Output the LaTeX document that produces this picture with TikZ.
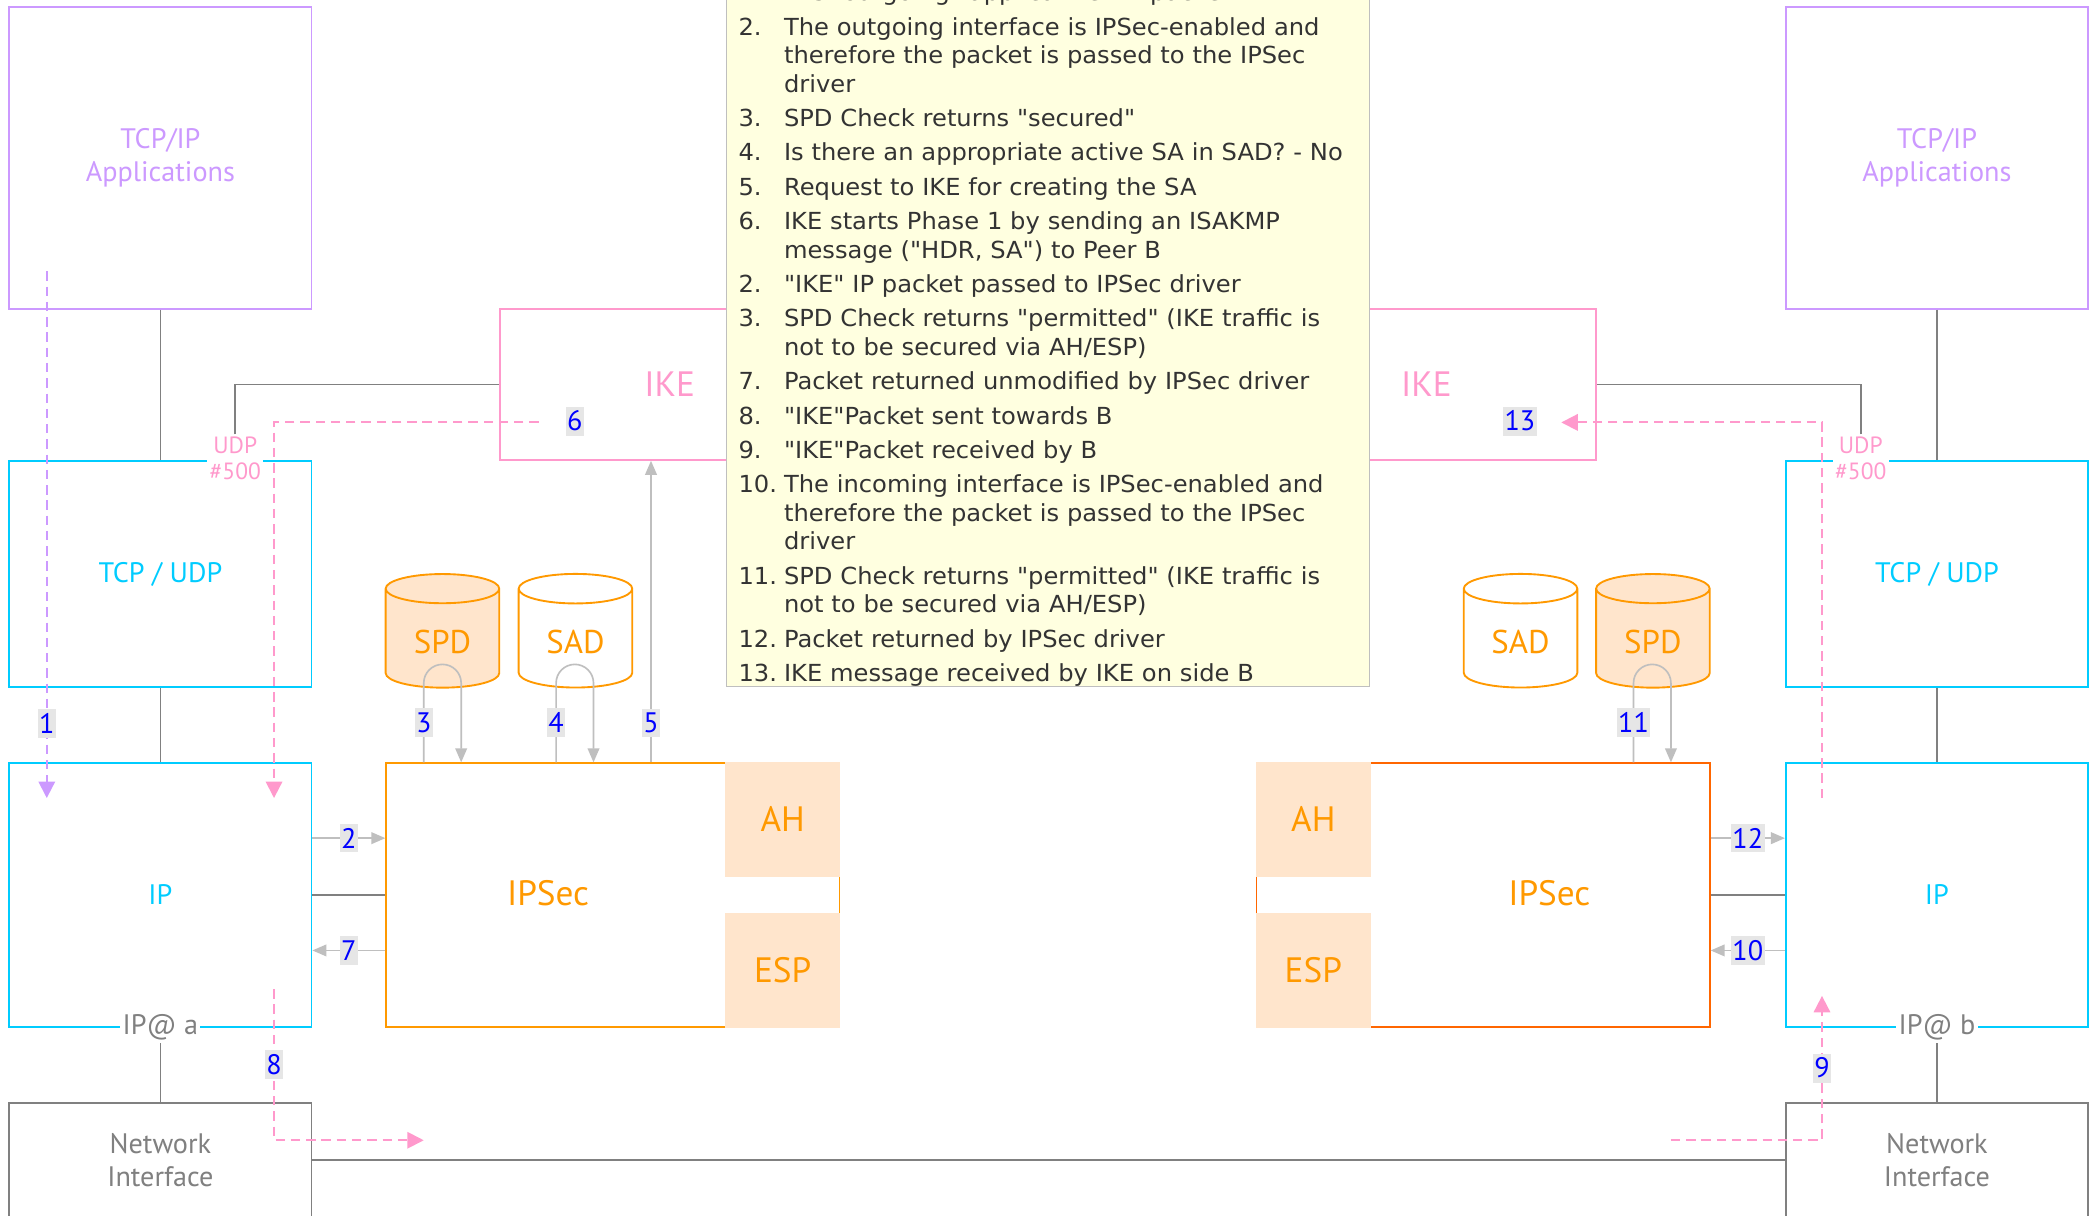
\documentclass[tikz,border=0pt]{standalone}
\usepackage{fontspec}
\setmainfont{PT Sans}
\newfontfamily\notefont{DejaVu Sans}[FakeStretch=1.03]
\usetikzlibrary{arrows.meta,positioning,shapes.geometric}

\definecolor{appcol}{HTML}{CC99FF}
\definecolor{netcol}{HTML}{00CCFF}
\definecolor{ikecol}{HTML}{FF99CC}
\definecolor{seccol}{HTML}{FF9900}
\definecolor{secdark}{HTML}{FF6600}
\definecolor{peach}{HTML}{FFE5CC}
\definecolor{notebg}{HTML}{FFFFE0}
\definecolor{wire}{HTML}{808080}
\definecolor{flowgray}{HTML}{BFBFBF}
\definecolor{tagbg}{HTML}{E6E6E6}
\definecolor{notetext}{HTML}{333333}

\newcommand{\stepno}[1]{\makebox[0.68cm][l]{#1}}
\newcommand{\contline}{\hspace*{0.68cm}}

\begin{document}
\begin{tikzpicture}[
    layer/.style={draw, line width=0.8pt, minimum width=4.52cm, font=\fontsize{12}{14}\selectfont},
    app/.style={layer, draw=appcol, text=appcol, minimum height=4.52cm, align=center},
    net/.style={layer, draw=netcol, text=netcol},
    nic/.style={layer, draw=wire, text=wire, align=center, minimum height=1.72cm},
    ike/.style={draw=ikecol, line width=0.8pt, text=ikecol, minimum width=5.08cm, minimum height=2.26cm, font=\fontsize{15}{18}\selectfont},
    ipsec/.style={draw=seccol, line width=0.8pt, minimum width=6.78cm, minimum height=3.94cm},
    seclbl/.style={text=seccol, font=\fontsize{15}{18}\selectfont},
    crypto/.style={fill=peach, draw=peach, line width=0.8pt, text=seccol, minimum width=1.70cm, minimum height=1.68cm, font=\fontsize{15}{18}\selectfont},
    db/.style={cylinder, shape border rotate=90, aspect=0.4, draw=seccol, line width=0.8pt, text=seccol, minimum width=1.70cm, minimum height=1.70cm, font=\fontsize{14}{17}\selectfont},
    note/.style={draw=flowgray, fill=notebg, text=notetext, line width=0.6pt, align=left, text width=9.26cm, inner xsep=0.18cm, inner ysep=0pt, font=\notefont\fontsize{10}{12.2}\selectfont},
    addr/.style={fill=white, text=wire, inner sep=1pt, font=\fontsize{12}{14}\selectfont},
    port/.style={fill=white, text=ikecol, inner sep=1pt, align=center, font=\fontsize{10}{11}\selectfont},
    num/.style={fill=tagbg, text=blue, inner xsep=0.6pt, inner ysep=1.8pt, font=\fontsize{12}{14}\selectfont},
    link/.style={draw=wire, line width=0.7pt},
    flow/.style={flowgray, line width=0.7pt, -{Triangle[width=5pt,length=6pt]}},
    ikeflow/.style={ikecol, line width=0.8pt, dash pattern=on 4pt off 2.5pt, -{Triangle[width=7pt,length=7pt]}},
    appflow/.style={appcol, line width=0.8pt, dash pattern=on 4pt off 2.5pt, -{Triangle[width=7pt,length=7pt]}}
  ]
    \path[use as bounding box, fill=white] (0,0) rectangle (31.36,-18.18);

    % side A
    \node[app] (appA) at (2.40,-2.36) {TCP/IP\\Applications};
    \node[net, minimum height=3.38cm] (tcpA) at (2.40,-8.59) {TCP / UDP};
    \node[net, minimum height=3.94cm] (ipA) at (2.40,-13.39) {IP};
    \node[nic] (nicA) at (2.40,-17.36) {Network\\Interface};
    \node[addr] (adrA) at (ipA.south) {IP@ a};
    \node[port] (udpA) at (3.52,-6.86) {UDP\\\#500};
    \node[ike] (ikeA) at (10.02,-5.75) {IKE};

    % side B
    \node[app] (appB) at (28.98,-2.36) {TCP/IP\\Applications};
    \node[net, minimum height=3.38cm] (tcpB) at (28.98,-8.59) {TCP / UDP};
    \node[net, minimum height=3.94cm] (ipB) at (28.98,-13.39) {IP};
    \node[nic] (nicB) at (28.98,-17.36) {Network\\Interface};
    \node[addr] (adrB) at (ipB.south) {IP@ b};
    \node[port] (udpB) at (27.84,-6.86) {UDP\\\#500};
    \node[ike] (ikeB) at (21.34,-5.75) {IKE};

    % steps
    \node[note, anchor=south west] (notes) at (10.86,-10.28) {%
      \stepno{1.}First outgoing "applicative" IP packet\\[2.4pt]
      \stepno{2.}The outgoing interface is IPSec-enabled and\\
      \contline therefore the packet is passed to the IPSec\\
      \contline driver\\[2.4pt]
      \stepno{3.}SPD Check returns "secured"\\[2.4pt]
      \stepno{4.}Is there an appropriate active SA in SAD? - No\\[2.4pt]
      \stepno{5.}Request to IKE for creating the SA\\[2.4pt]
      \stepno{6.}IKE starts Phase 1 by sending an ISAKMP\\
      \contline message ("HDR, SA") to Peer B\\[2.4pt]
      \stepno{2.}"IKE" IP packet passed to IPSec driver\\[2.4pt]
      \stepno{3.}SPD Check returns "permitted" (IKE traffic is\\
      \contline not to be secured via AH/ESP)\\[2.4pt]
      \stepno{7.}Packet returned unmodified by IPSec driver\\[2.4pt]
      \stepno{8.}"IKE"Packet sent towards B\\[2.4pt]
      \stepno{9.}"IKE"Packet received by B\\[2.4pt]
      \stepno{10.}The incoming interface is IPSec-enabled and\\
      \contline therefore the packet is passed to the IPSec\\
      \contline driver\\[2.4pt]
      \stepno{11.}SPD Check returns "permitted" (IKE traffic is\\
      \contline not to be secured via AH/ESP)\\[2.4pt]
      \stepno{12.}Packet returned by IPSec driver\\[2.4pt]
      \stepno{13.}IKE message received by IKE on side B};

    % databases
    \node[db, fill=peach] (spdA) at (6.62,-9.61) {SPD};
    \node[db, fill=white] (sadA) at (8.61,-9.61) {SAD};
    \node[db, fill=white] (sadB) at (22.75,-9.61) {SAD};
    \node[db, fill=peach] (spdB) at (24.73,-9.61) {SPD};

    % IPSec drivers
    \node[ipsec] (ipsecA) at (9.17,-13.39) {};
    \node[seclbl] (ipsecAtxt) at (8.20,-13.36) {IPSec};
    \node[crypto, anchor=north east] (ahA) at (ipsecA.north east) {AH};
    \node[crypto, anchor=south east] (espA) at (ipsecA.south east) {ESP};
    \node[ipsec, draw=secdark] (ipsecB) at (22.19,-13.39) {};
    \node[seclbl] (ipsecBtxt) at (23.18,-13.36) {IPSec};
    \node[crypto, anchor=north west] (ahB) at (ipsecB.north west) {AH};
    \node[crypto, anchor=south west] (espB) at (ipsecB.south west) {ESP};

    % stack wiring
    \draw[link] (appA) -- (tcpA);
    \draw[link] (tcpA) -- (ipA);
    \draw[link] (adrA) -- (nicA);
    \draw[link] (udpA.north) |- (ikeA.west);
    \draw[link] (ipA) -- (ipsecA);
    \draw[link] (appB) -- (tcpB);
    \draw[link] (tcpB) -- (ipB);
    \draw[link] (adrB) -- (nicB);
    \draw[link] (udpB.north) |- (ikeB.east);
    \draw[link] (ipsecB) -- (ipB);
    \draw[link] (nicA) -- (nicB);

    % driver calls
    \coordinate (row2) at (0,-12.54);
    \coordinate (row7) at (0,-14.22);
    \coordinate (l3) at (6.34,-10.22);
    \coordinate (r3) at (6.90,-10.22);
    \coordinate (l4) at (8.32,-10.22);
    \coordinate (r4) at (8.88,-10.22);
    \coordinate (c5) at (9.74,-10.82);
    \coordinate (l11) at (24.44,-10.22);
    \coordinate (r11) at (25.00,-10.22);

    \draw[flow] (ipA.east |- row2) -- node[num] {2} (ipsecA.west |- row2);
    \draw[flow] (ipsecA.west |- row7) -- node[num] {7} (ipA.east |- row7);
    \draw[flow] (l3 |- ipsecA.north) -- node[num] {3} (l3) arc[start angle=180, end angle=0, radius=0.28] -- (r3 |- ipsecA.north);
    \draw[flow] (l4 |- ipsecA.north) -- node[num] {4} (l4) arc[start angle=180, end angle=0, radius=0.28] -- (r4 |- ipsecA.north);
    \draw[flow] (c5 |- ipsecA.north) -- node[num, pos=0.13] {5} (c5 |- ikeA.south);
    \draw[flow] (ipsecB.east |- row2) -- node[num] {12} (ipB.west |- row2);
    \draw[flow] (ipB.west |- row7) -- node[num] {10} (ipsecB.east |- row7);
    \draw[flow] (l11 |- ipsecB.north) -- node[num] {11} (l11) arc[start angle=180, end angle=0, radius=0.28] -- (r11 |- ipsecB.north);

    % packet paths
    \coordinate (a1s) at (0.70,-4.06);
    \coordinate (a1e) at (0.70,-11.94);
    \coordinate (a6s) at (8.06,-6.32);
    \coordinate (a6e) at (4.10,-11.94);
    \coordinate (a8s) at (4.10,-14.80);
    \coordinate (a8e) at (6.34,-17.06);
    \coordinate (a9s) at (25.00,-17.06);
    \coordinate (a9e) at (27.26,-14.90);
    \coordinate (a13s) at (27.26,-11.94);
    \coordinate (a13e) at (23.36,-6.32);

    \draw[appflow] (a1s) -- node[num, pos=0.858] {1} (a1e);
    \draw[ikeflow] (a6s) -| (a6e);
    \node[num] (n6) at (8.60,-6.30) {6};
    \draw[ikeflow] (a8s) |- node[num, pos=0.25] {8} (a8e);
    \draw[ikeflow] (a9s) -| node[num, pos=0.75] {9} (a9e);
    \draw[ikeflow] (a13s) |- (a13e);
    \node[num] (n13) at (22.74,-6.30) {13};
\end{tikzpicture}
\end{document}
